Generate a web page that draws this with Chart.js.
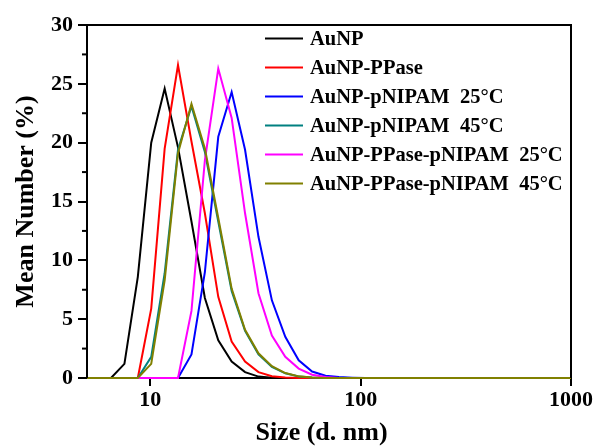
<!DOCTYPE html>
<html>
<head>
<meta charset="utf-8">
<script src="https://cdn.jsdelivr.net/npm/chart.js@4"></script>
<style>
  html, body { margin: 0; padding: 0; background: #ffffff; }
  #wrap { width: 596px; height: 446px; }
</style>
</head>
<body>
<div id="wrap"><canvas id="c" width="596" height="446"></canvas></div>
<script>
// Size bins (d. nm)
const sizes = [4.849, 5.615, 6.503, 7.531, 8.721, 10.10, 11.70, 13.54, 15.69, 18.17, 21.04, 24.36, 28.21, 32.67, 37.84, 43.82, 50.75, 58.77, 68.06, 78.82, 91.28, 105.7, 122.4, 141.8, 164.2, 190.1, 220.2, 255.0, 295.3, 342.0, 396.1, 458.7, 531.2, 615.1, 712.4, 825.0, 955.4, 1106];

const seriesNames = ["AuNP", "AuNP-PPase", "AuNP-pNIPAM  25°C", "AuNP-pNIPAM  45°C", "AuNP-PPase-pNIPAM  25°C", "AuNP-PPase-pNIPAM  45°C"];
const seriesColors = ["#000000", "#ff0000", "#0000ff", "#008080", "#ff00ff", "#808000"];

const auNP =          [0, 0, 0, 1.2, 8.6, 20.0, 24.6, 19.6, 13.3, 6.8, 3.2, 1.4, 0.5, 0.12, 0.03, 0, 0, 0, 0, 0, 0, 0, 0, 0, 0, 0, 0, 0, 0, 0, 0, 0, 0, 0, 0, 0, 0, 0];
const auNP_PPase =    [0, 0, 0, 0, 0, 5.9, 19.5, 26.6, 20.1, 14.0, 6.9, 3.1, 1.4, 0.5, 0.15, 0.04, 0, 0, 0, 0, 0, 0, 0, 0, 0, 0, 0, 0, 0, 0, 0, 0, 0, 0, 0, 0, 0, 0];
const auNP_pN25 =     [0, 0, 0, 0, 0, 0, 0, 0, 2.0, 9.0, 20.5, 24.3, 19.4, 12.0, 6.6, 3.5, 1.5, 0.55, 0.2, 0.08, 0.03, 0, 0, 0, 0, 0, 0, 0, 0, 0, 0, 0, 0, 0, 0, 0, 0, 0];
const auNP_pN45 =     [0, 0, 0, 0, 0, 1.8, 8.9, 19.4, 23.1, 19.2, 13.3, 7.4, 4.0, 2.0, 0.95, 0.4, 0.12, 0.04, 0, 0, 0, 0, 0, 0, 0, 0, 0, 0, 0, 0, 0, 0, 0, 0, 0, 0, 0, 0];
const auNP_PP_pN25 =  [0, 0, 0, 0, 0, 0, 0, 0, 5.7, 18.5, 26.3, 22.1, 14.0, 7.2, 3.6, 1.8, 0.8, 0.28, 0.08, 0, 0, 0, 0, 0, 0, 0, 0, 0, 0, 0, 0, 0, 0, 0, 0, 0, 0, 0];
const auNP_PP_pN45 =  [0, 0, 0, 0, 0, 1.2, 8.3, 19.1, 23.3, 19.5, 13.6, 7.6, 4.1, 2.1, 1.0, 0.42, 0.14, 0.05, 0, 0, 0, 0, 0, 0, 0, 0, 0, 0, 0, 0, 0, 0, 0, 0, 0, 0, 0, 0];

const xTickValues = [10, 100, 1000];
const yTickValues = [0, 5, 10, 15, 20, 25, 30];
const yMinorTicks = [2.5, 7.5, 12.5, 17.5, 22.5, 27.5];
const xTitle = "Size (d. nm)";
const yTitle = "Mean Number (%)";

const allSeries = [auNP, auNP_PPase, auNP_pN25, auNP_pN45, auNP_PP_pN25, auNP_PP_pN45];

const FONT = "'Liberation Serif', 'Times New Roman', serif";

const datasets = allSeries.map((vals, i) => ({
  label: seriesNames[i],
  data: sizes.map((s, j) => ({ x: s, y: vals[j] })),
  borderColor: seriesColors[i],
  backgroundColor: seriesColors[i],
  borderWidth: 2,
  pointRadius: 0,
  tension: 0,
  fill: false,
  order: allSeries.length - i,
  clip: { left: 0, right: 0, top: 0, bottom: 3 }
}));

const framePlugin = {
  id: 'frame',
  afterDatasetsDraw(chart) {
    const { ctx, chartArea: a, scales } = chart;
    ctx.save();
    ctx.strokeStyle = '#000';
    ctx.lineWidth = 2;
    ctx.beginPath();
    ctx.moveTo(a.left, a.bottom);
    ctx.lineTo(a.left, a.top);
    ctx.lineTo(a.right, a.top);
    ctx.lineTo(a.right, a.bottom);
    ctx.stroke();
    // minor y ticks
    yMinorTicks.forEach(v => {
      const y = scales.y.getPixelForValue(v);
      ctx.beginPath();
      ctx.moveTo(a.left - 5, y);
      ctx.lineTo(a.left, y);
      ctx.stroke();
    });
    // x axis title
    ctx.fillStyle = '#000';
    ctx.font = "bold 26px " + FONT;
    ctx.textAlign = 'center';
    ctx.textBaseline = 'alphabetic';
    ctx.fillText(xTitle, 321.5, 440);
    // legend
    ctx.font = "bold 20.5px " + FONT;
    ctx.textBaseline = 'middle';
    ctx.textAlign = 'left';
    seriesNames.forEach((name, i) => {
      const y = 38.5 + 29 * i;
      ctx.strokeStyle = seriesColors[i];
      ctx.lineWidth = 2;
      ctx.beginPath();
      ctx.moveTo(265, y);
      ctx.lineTo(303, y);
      ctx.stroke();
      ctx.fillStyle = '#000';
      ctx.fillText(name, 310, y + 1);
    });
    ctx.restore();
  }
};

new Chart(document.getElementById('c'), {
  type: 'line',
  data: { datasets },
  options: {
    responsive: false,
    animation: false,
    layout: { padding: { left: 0, top: 25, right: 25, bottom: 0 } },
    plugins: { legend: { display: false }, tooltip: { enabled: false } },
    scales: {
      x: {
        type: 'logarithmic',
        min: 5,
        max: 1000,
        afterBuildTicks(scale) { scale.ticks = xTickValues.map(v => ({ value: v })); },
        afterFit(scale) { scale.height = 68; },
        grid: { drawOnChartArea: false, drawTicks: true, tickLength: 8, color: '#000', lineWidth: 2 },
        border: { display: true, color: '#000', width: 2 },
        ticks: {
          autoSkip: false, maxRotation: 0, padding: 1, color: '#000',
          font: { family: FONT, size: 22, weight: 'bold' },
          callback: (v) => String(v)
        },
        title: { display: false }
      },
      y: {
        type: 'linear',
        min: 0,
        max: 30,
        afterBuildTicks(scale) { scale.ticks = yTickValues.map(v => ({ value: v })); },
        afterFit(scale) { scale.width = 87; },
        grid: { drawOnChartArea: false, drawTicks: true, tickLength: 9, color: '#000', lineWidth: 2 },
        border: { display: true, color: '#000', width: 2 },
        ticks: {
          padding: 5, color: '#000',
          font: { family: FONT, size: 22, weight: 'bold' },
          callback: (v) => String(v)
        },
        title: {
          display: true, text: yTitle, color: '#000',
          font: { family: FONT, size: 26, weight: 'bold', lineHeight: 1 },
          padding: { top: 13, bottom: 0 }
        }
      }
    }
  },
  plugins: [framePlugin]
});
</script>
</body>
</html>
